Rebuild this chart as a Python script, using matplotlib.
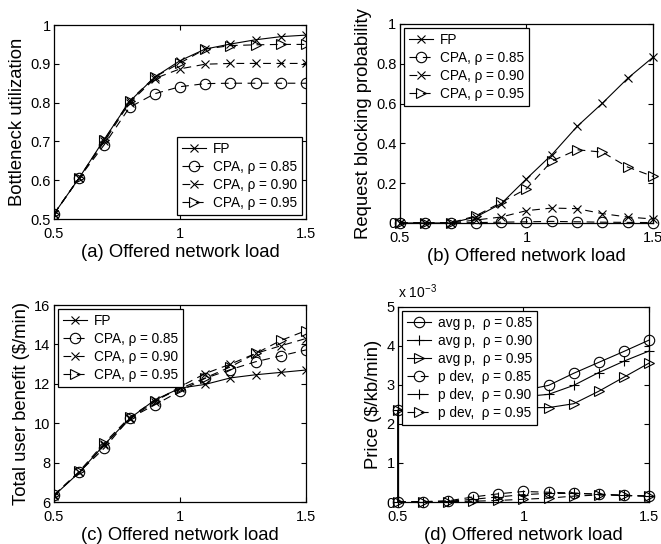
import numpy as np
import matplotlib
matplotlib.use("Agg")
import matplotlib.pyplot as plt
from matplotlib.ticker import FuncFormatter

plt.rcParams['font.family'] = ['Liberation Sans', 'DejaVu Sans']
plt.rcParams['mathtext.fontset'] = 'custom'
plt.rcParams['mathtext.rm'] = 'Liberation Sans'

# offered network load
load = [0.5, 0.6, 0.7, 0.8, 0.9, 1.0, 1.1, 1.2, 1.3, 1.4, 1.5]

# (a) bottleneck utilization
util_fp = [0.513, 0.606, 0.706, 0.803, 0.866, 0.908, 0.938, 0.951, 0.962, 0.970, 0.974]
util_85 = [0.513, 0.606, 0.692, 0.788, 0.823, 0.841, 0.849, 0.850, 0.850, 0.850, 0.850]
util_90 = [0.513, 0.606, 0.700, 0.800, 0.862, 0.887, 0.899, 0.901, 0.901, 0.901, 0.901]
util_95 = [0.513, 0.606, 0.704, 0.805, 0.866, 0.902, 0.938, 0.947, 0.949, 0.950, 0.950]

# (b) request blocking probability
blk_fp = [0.0, 0.0, 0.0, 0.03, 0.097, 0.222, 0.343, 0.485, 0.602, 0.727, 0.833]
blk_85 = [0.0, 0.0, 0.0, 0.002, 0.004, 0.006, 0.008, 0.006, 0.004, 0.003, 0.002]
blk_90 = [0.0, 0.0, 0.0, 0.015, 0.03, 0.062, 0.075, 0.072, 0.047, 0.03, 0.02]
blk_95 = [0.0, 0.0, 0.0, 0.036, 0.103, 0.172, 0.311, 0.368, 0.356, 0.281, 0.234]

# (c) total user benefit ($/min)
ben_fp = [6.32, 7.50, 8.92, 10.24, 11.18, 11.78, 11.97, 12.30, 12.46, 12.58, 12.70]
ben_85 = [6.35, 7.52, 8.74, 10.25, 10.93, 11.63, 12.28, 12.72, 13.12, 13.42, 13.72]
ben_90 = [6.35, 7.50, 8.90, 10.20, 11.10, 11.85, 12.52, 13.00, 13.54, 13.93, 14.30]
ben_95 = [6.35, 7.55, 9.00, 10.30, 11.15, 11.75, 12.30, 12.86, 13.54, 14.20, 14.70]

# (d) price, in units of 1e-3 $/kb/min
# avg p curves start with an extra point at load 0.5 from zero
load_avg = [0.5] + load
avg_85 = [0.0, 2.35, 2.40, 2.47, 2.57, 2.72, 2.86, 2.99, 3.30, 3.58, 3.86, 4.15]
avg_90 = [0.0, 2.35, 2.38, 2.43, 2.50, 2.60, 2.70, 2.76, 2.99, 3.32, 3.61, 3.87]
avg_95 = [0.0, 2.35, 2.36, 2.38, 2.40, 2.42, 2.42, 2.42, 2.52, 2.84, 3.20, 3.56]
dev_85 = [0.0, 0.01, 0.03, 0.13, 0.21, 0.27, 0.25, 0.23, 0.20, 0.17, 0.15]
dev_90 = [0.0, 0.01, 0.02, 0.07, 0.13, 0.19, 0.22, 0.22, 0.20, 0.17, 0.15]
dev_95 = [0.0, 0.005, 0.01, 0.02, 0.04, 0.07, 0.10, 0.15, 0.18, 0.17, 0.15]

lw = 0.8
dash = (0, (7, 5))
tick_fs = 10.5
label_fs = 13.3
leg_fs = 9.8
ms_o = 7.5
ms_x = 5.5
ms_p = 7

fig = plt.figure(figsize=(6.61, 5.44), dpi=100)

fmt = FuncFormatter(lambda v, p: '%g' % round(v, 6))


def style_axes(ax, ylim, yticks, xlabel, ylabel):
    ax.set_xlim(0.5, 1.5)
    ax.set_ylim(*ylim)
    ax.set_xticks([0.5, 1.0, 1.5])
    ax.set_yticks(yticks)
    ax.xaxis.set_major_formatter(fmt)
    ax.yaxis.set_major_formatter(fmt)
    ax.tick_params(direction='in', top=True, right=True, length=3.5,
                   width=0.8, labelsize=tick_fs)
    ax.tick_params(axis='x', pad=6)
    ax.tick_params(axis='y', pad=2.5)
    for s in ax.spines.values():
        s.set_linewidth(0.9)
    ax.set_xlabel(xlabel, fontsize=label_fs, labelpad=2)
    ax.set_ylabel(ylabel, fontsize=label_fs, labelpad=3)


def legend(ax, loc, pad=0.3):
    lg = ax.legend(loc=loc, fontsize=leg_fs, frameon=True, fancybox=False,
                   edgecolor='black', framealpha=1, handlelength=1.8,
                   labelspacing=0.3, borderpad=0.35, handletextpad=0.5,
                   borderaxespad=pad)
    lg.get_frame().set_linewidth(0.9)
    return lg


def four_lines(ax, y_fp, y85, y90, y95):
    ax.plot(load, y_fp, color='k', lw=lw, marker='x', ms=ms_x, mew=0.8,
            label='FP')
    ax.plot(load, y85, color='k', lw=lw, ls=dash, marker='o', ms=ms_o,
            mfc='none', mew=0.8, label='CPA, ρ = 0.85')
    ax.plot(load, y90, color='k', lw=lw, ls=dash, marker='x', ms=ms_x,
            mew=0.8, label='CPA, ρ = 0.90')
    ax.plot(load, y95, color='k', lw=lw, ls=dash, marker='>', ms=ms_o,
            mfc='none', mew=0.8, label='CPA, ρ = 0.95')


# (a)
ax1 = fig.add_axes([0.0817, 0.5974, 0.3812, 0.3566])
four_lines(ax1, util_fp, util_85, util_90, util_95)
style_axes(ax1, (0.5, 1.0), np.arange(0.5, 1.01, 0.1),
           '(a) Offered network load', 'Bottleneck utilization')
legend(ax1, 'lower right')

# (b)
ax2 = fig.add_axes([0.6051, 0.5901, 0.3828, 0.3658])
four_lines(ax2, blk_fp, blk_85, blk_90, blk_95)
style_axes(ax2, (0, 1.0), np.arange(0, 1.01, 0.2),
           '(b) Offered network load', 'Request blocking probability')
for ln in ax2.lines:
    ln.set_clip_on(False)
legend(ax2, 'upper left')

# (c)
ax3 = fig.add_axes([0.0817, 0.0772, 0.3812, 0.3621])
four_lines(ax3, ben_fp, ben_85, ben_90, ben_95)
style_axes(ax3, (6, 16), np.arange(6, 16.1, 2),
           '(c) Offered network load', 'Total user benefit ($/min)')
legend(ax3, 'upper left')

# (d)
ax4 = fig.add_axes([0.6021, 0.0772, 0.3797, 0.3585])
mk = list(range(1, 12))
ax4.plot(load_avg, avg_85, color='k', lw=lw, marker='o', ms=ms_o, mfc='none',
         mew=0.8, markevery=mk, label='avg p,  ρ = 0.85')
ax4.plot(load_avg, avg_90, color='k', lw=lw, marker='+', ms=ms_p, mew=0.8,
         markevery=mk, label='avg p,  ρ = 0.90')
ax4.plot(load_avg, avg_95, color='k', lw=lw, marker='>', ms=ms_o, mfc='none',
         mew=0.8, markevery=mk, label='avg p,  ρ = 0.95')
ax4.plot(load, dev_85, color='k', lw=lw, ls=dash, marker='o', ms=ms_o,
         mfc='none', mew=0.8, label='p dev,  ρ = 0.85')
ax4.plot(load, dev_90, color='k', lw=lw, ls=dash, marker='+', ms=ms_p,
         mew=0.8, label='p dev,  ρ = 0.90')
ax4.plot(load, dev_95, color='k', lw=lw, ls=dash, marker='>', ms=ms_o,
         mfc='none', mew=0.8, label='p dev,  ρ = 0.95')
for ln in ax4.lines:
    ln.set_clip_on(False)
style_axes(ax4, (0, 5), np.arange(0, 5.1, 1),
           '(d) Offered network load', 'Price ($/kb/min)')
legend(ax4, 'upper left')
ax4.text(0.0, 1.03, r'x 10$^{-3}$', transform=ax4.transAxes,
         fontsize=tick_fs - 0.5, ha='left', va='bottom')

fig.savefig('out.png', dpi=100)
